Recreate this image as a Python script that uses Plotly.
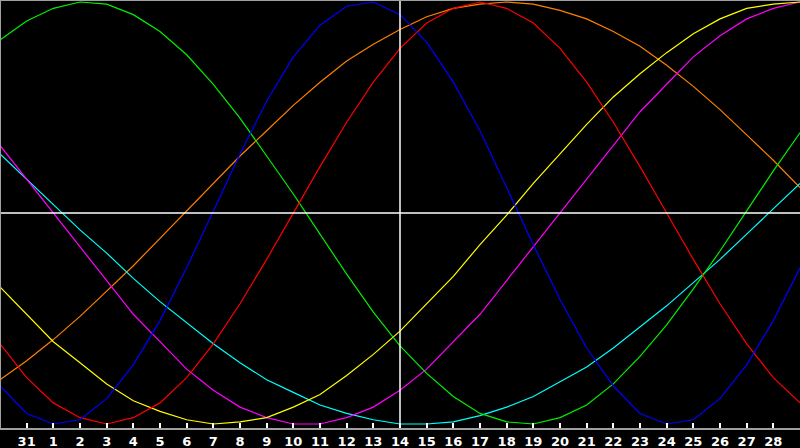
#
# Biorhythm chart
#
import plotly.graph_objects as go

# day of month for each sample (Jan 30 .. Mar 1)
days = [30, 31, 1, 2, 3, 4, 5, 6, 7, 8, 9, 10, 11, 12, 13, 14, 15,
        16, 17, 18, 19, 20, 21, 22, 23, 24, 25, 26, 27, 28, 1]

# cycle values in percent, one per day
blue = [-82, -95, -100, -98, -88, -72, -51, -26, 1, 28, 53, 74, 89, 98, 100, 94,
        81, 62, 39, 12, -15, -41, -64, -82, -95, -100, -98, -88, -72, -51, -26]
red = [-62, -78, -90, -97, -100, -97, -90, -78, -62, -43, -22, 0, 22, 43, 62, 78,
       90, 97, 100, 97, 90, 78, 62, 43, 22, 0, -22, -43, -62, -78, -90]
green = [82, 91, 97, 100, 99, 94, 86, 75, 61, 45, 27, 9, -10, -29, -47, -63,
         -76, -87, -95, -99, -100, -97, -91, -81, -68, -53, -36, -18, 1, 20, 38]
yellow = [-35, -48, -61, -71, -81, -89, -94, -98, -100, -99, -97, -92, -86, -77, -67, -56,
          -43, -30, -15, -1, 14, 28, 42, 55, 66, 76, 85, 92, 97, 99, 100]
magenta = [32, 16, 0, -16, -32, -48, -61, -74, -84, -92, -97, -100, -100, -97, -92, -84,
           -74, -61, -48, -32, -16, 0, 16, 32, 48, 61, 74, 84, 92, 97, 100]
orange = [-79, -70, -60, -49, -37, -25, -12, 1, 14, 27, 39, 51, 62, 72, 80, 87,
          93, 97, 99, 100, 99, 96, 92, 86, 79, 70, 60, 49, 37, 25, 12]
cyan = [28, 16, 4, -8, -19, -31, -42, -52, -62, -71, -79, -85, -91, -95, -98, -100,
        -100, -99, -96, -92, -87, -80, -73, -64, -54, -44, -33, -22, -10, 2, 14]

series = [
    (orange, '#ff8000'),
    (cyan, '#00ffff'),
    (magenta, '#ff00ff'),
    (yellow, '#ffff00'),
    (green, '#00f000'),
    (red, '#ff0000'),
    (blue, '#0000ff'),
]

x = list(range(len(days)))

fig = go.Figure()
for vals, col in series:
    fig.add_trace(go.Scatter(x=x, y=vals, mode='lines',
                             line=dict(color=col, width=1.2), hoverinfo='skip'))

# centre cross
fig.add_hline(y=0, line=dict(color='white', width=1.5))
fig.add_shape(type='line', xref='x', yref='paper', x0=15, x1=15, y0=0, y1=1,
              line=dict(color='white', width=1.5))
# grey frame top / left
fig.add_shape(type='line', xref='paper', yref='paper', x0=0, x1=1, y0=1, y1=1,
              line=dict(color='#a0a0a0', width=2))
fig.add_shape(type='line', xref='paper', yref='paper', x0=0, x1=0, y0=0, y1=1,
              line=dict(color='#a0a0a0', width=2))

fig.update_layout(
    width=800, height=448,
    margin=dict(l=0, r=0, t=0, b=20),
    paper_bgcolor='black', plot_bgcolor='black',
    showlegend=False,
)
fig.update_xaxes(
    range=[0, 30], showgrid=False, zeroline=False,
    showline=True, linecolor='#a0a0a0', linewidth=2,
    ticks='inside', ticklen=5, tickcolor='white', tickwidth=2,
    tickvals=x[1:-1], ticktext=[str(d) for d in days[1:-1]],
    tickfont=dict(color='white', size=13, family='DejaVu Sans', weight='bold'),
)
fig.update_yaxes(range=[-101.9, 100.95], visible=False)

fig.write_html("out.html", config={'displayModeBar': False},
               post_script="document.body.style.margin='0';document.body.style.background='black';")
